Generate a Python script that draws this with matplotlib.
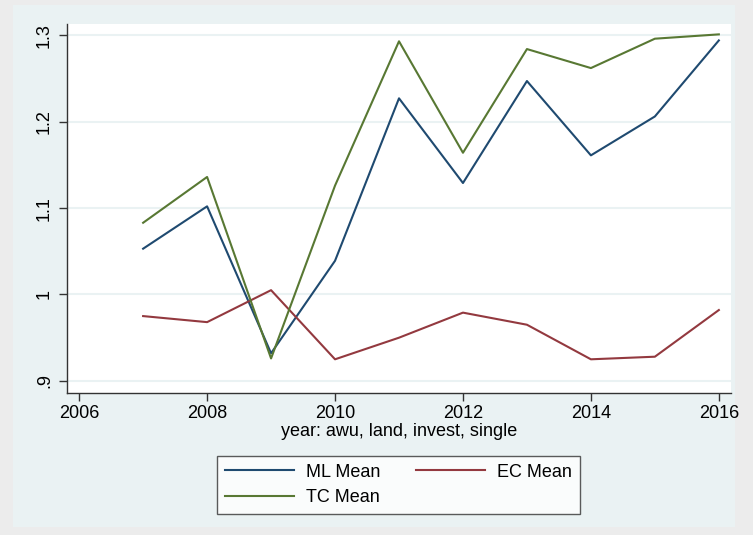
import matplotlib.pyplot as plt
from matplotlib.patches import Rectangle

plt.rcParams['font.family'] = ['Liberation Sans', 'DejaVu Sans']

years = [2007, 2008, 2009, 2010, 2011, 2012, 2013, 2014, 2015, 2016]
ml_mean = [1.053, 1.102, 0.932, 1.039, 1.227, 1.129, 1.247, 1.161, 1.206, 1.294]
ec_mean = [0.975, 0.968, 1.005, 0.925, 0.950, 0.979, 0.965, 0.925, 0.928, 0.982]
tc_mean = [1.083, 1.136, 0.926, 1.126, 1.293, 1.164, 1.284, 1.262, 1.296, 1.301]

x_ticks = [2006, 2008, 2010, 2012, 2014, 2016]
y_ticks = [0.9, 1.0, 1.1, 1.2, 1.3]
y_labels = [".9", "1", "1.1", "1.2", "1.3"]

bg = "#eaf2f3"

fig = plt.figure(figsize=(7.53, 5.35), dpi=100, facecolor="#ececec")
# inner graph region (stata style)
fig.patches.append(Rectangle((13 / 753, 8 / 535), 722 / 753, 522 / 535,
                             transform=fig.transFigure, facecolor=bg,
                             edgecolor="none", zorder=-10))

ax = fig.add_axes([67 / 753, 1 - 393 / 535, 664 / 753, 369 / 535])
ax.set_facecolor("white")

l1, = ax.plot(years, ml_mean, color="#1f4a70", lw=1.5, label="ML Mean")
l2, = ax.plot(years, ec_mean, color="#93393f", lw=1.5, label="EC Mean")
l3, = ax.plot(years, tc_mean, color="#587833", lw=1.5, label="TC Mean")

ax.set_xlim(2005.81, 2016.19)
ax.set_ylim(0.886, 1.313)
ax.set_xticks(x_ticks)
ax.set_yticks(y_ticks)
ax.set_yticklabels(y_labels, rotation=90, va="center")
ax.grid(axis="y", color=bg, lw=1.5)
ax.set_axisbelow(True)

for s in ["top", "right"]:
    ax.spines[s].set_visible(False)
for s in ["left", "bottom"]:
    ax.spines[s].set_color("#333333")
    ax.spines[s].set_linewidth(1.0)
ax.tick_params(labelsize=13, color="#333333", length=6, width=1.0)
ax.tick_params(axis="y", pad=4)
ax.tick_params(axis="x", pad=3)

ax.set_xlabel("year: awu, land, invest, single", fontsize=13, labelpad=0)

# stata fills rows first: ML, EC / TC
leg = fig.legend([l1, l3, l2], ["ML Mean", "TC Mean", "EC Mean"],
                 loc="center", bbox_to_anchor=(398.5 / 753, 1 - 485 / 535), ncol=2,
                 fontsize=13, frameon=True, fancybox=False, edgecolor="#333333",
                 handlelength=3.8, handletextpad=0.65, columnspacing=2.0,
                 borderpad=0.45, labelspacing=0.47)
leg.get_frame().set_linewidth(1.0)

fig.savefig("out.png", dpi=100, facecolor=fig.get_facecolor())
